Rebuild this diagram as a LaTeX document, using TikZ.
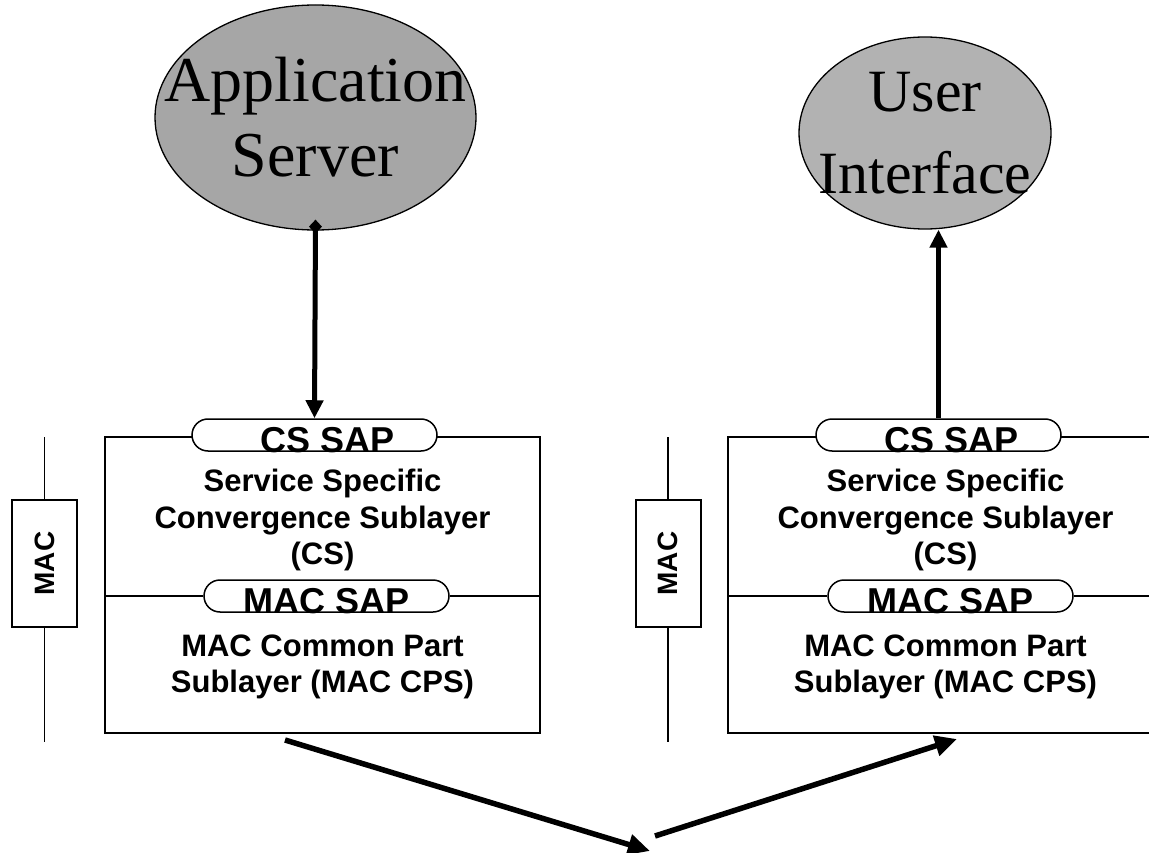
\documentclass[tikz,border=0pt]{standalone}
\usepackage{fontspec}
\setmainfont{Liberation Serif}
\setsansfont{Liberation Sans}
\usetikzlibrary{shapes.geometric,arrows.meta}
\tikzset{
  bubble/.style={ellipse, draw=black, line width=1.3pt, inner sep=0pt},
  bubtxt/.style={align=center, inner sep=0pt},
  layerbox/.style={draw, line width=2pt, inner sep=0pt, minimum width=435pt, minimum height=296pt},
  boxline/.style={line width=2pt},
  sap/.style={draw, fill=white, line width=1.5pt, rounded corners=16pt, minimum width=245pt, minimum height=32pt, inner sep=0pt},
  saptxt/.style={inner sep=0pt, font=\sffamily\bfseries\fontsize{36}{40}\selectfont},
  laytxt/.style={align=center, inner sep=0pt, font=\sffamily\bfseries\fontsize{31}{36.5}\selectfont},
  macbox/.style={draw, fill=white, line width=2pt, rotate=90, inner sep=0pt, minimum width=127pt, minimum height=65pt, font=\sffamily\bfseries\fontsize{28}{32}\selectfont},
  macline/.style={line width=1.5pt},
  fat/.style={line width=5pt, -{Triangle[length=18pt,width=17pt]}},
  fatter/.style={line width=5.5pt, -{Triangle[length=22pt,width=20pt]}},
}
\begin{document}
\begin{tikzpicture}[x=1pt,y=-1pt]
\useasboundingbox (0,0) rectangle (1149,853);
\clip (0,0) rectangle (1149,853);
\node[bubble, fill=black!35, minimum width=321pt, minimum height=225pt] (app) at (315.5,117.5) {};
\node[bubtxt, font=\fontsize{64}{75}\selectfont] (apptxt) at (app.center) {Application\\Server};
\node[bubble, fill=black!30, minimum width=252pt, minimum height=192pt] (ui) at (925,133) {};
\node[bubtxt, font=\fontsize{60}{82}\selectfont] (uitxt) at (ui.center) {User\\Interface};

\node[layerbox] (boxL) at (322.5,585) {};
\node[layerbox] (boxR) at (945.5,585) {};
\node[sap] (cssapL) at (314.5,435) {};
\node[sap] (macsapL) at (326.5,596) {};
\node[sap] (cssapR) at (938.5,435) {};
\node[sap] (macsapR) at (950.5,596) {};
\draw[boxline] (boxL.west |- macsapL) -- (macsapL.west) (macsapL.east) -- (boxL.east |- macsapL);
\draw[boxline] (boxR.west |- macsapR) -- (macsapR.west) (macsapR.east) -- (boxR.east |- macsapR);
\node[saptxt] (cssapLtxt) at ([xshift=13pt,yshift=-5pt]cssapL.center) {CS SAP};
\node[saptxt] (macsapLtxt) at ([yshift=-5pt]macsapL.center) {MAC SAP};
\node[saptxt] (cssapRtxt) at ([xshift=13pt,yshift=-5pt]cssapR.center) {CS SAP};
\node[saptxt] (macsapRtxt) at ([yshift=-5pt]macsapR.center) {MAC SAP};
\node[laytxt] (csL) at (322.5,520) {Service Specific\\Convergence Sublayer\\(CS)};
\node[laytxt] (cpsL) at (322.5,667) {MAC Common Part\\Sublayer (MAC CPS)};
\node[laytxt] (csR) at (945.5,520) {Service Specific\\Convergence Sublayer\\(CS)};
\node[laytxt] (cpsR) at (945.5,667) {MAC Common Part\\Sublayer (MAC CPS)};

\coordinate (macLtop) at (44.5,437);
\coordinate (macLbot) at (44.5,742);
\coordinate (macRtop) at (668,437);
\coordinate (macRbot) at (668,742);
\node[macbox] (macL) at (44.5,563.5) {MAC};
\node[macbox] (macR) at (668,563.5) {MAC};
\draw[macline] (macLtop) -- (macL) (macL) -- (macLbot);
\draw[macline] (macRtop) -- (macR) (macR) -- (macRbot);

\draw[fat, {Diamond[length=14pt,width=13pt]}-{Triangle[length=18pt,width=17pt]}] ([yshift=11pt]app.south) -- (cssapL.north);
\draw[fat] (cssapR.north) -- (cssapR.north |- ui.south);

\coordinate (dnA) at (285,740);
\coordinate (dnB) at (650,851);
\coordinate (upA) at (655,836);
\coordinate (upB) at (957,739);
\draw[fatter] (dnA) -- (dnB);
\draw[fatter] (upA) -- (upB);
\end{tikzpicture}
\end{document}
